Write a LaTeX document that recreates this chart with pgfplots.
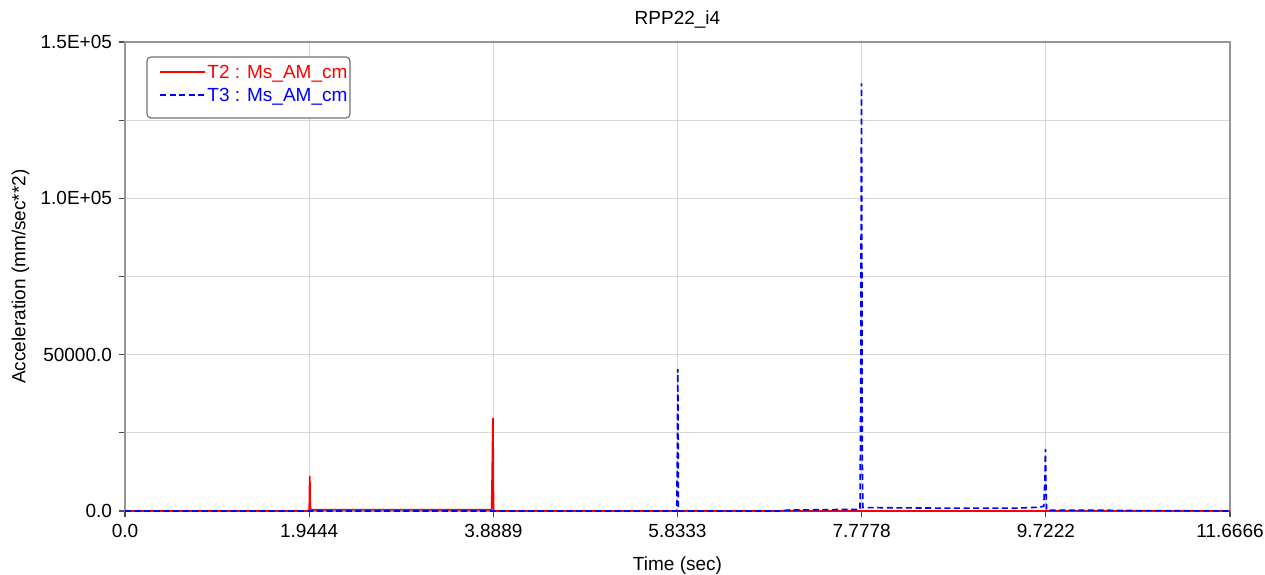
\documentclass[border=0pt]{standalone}
\usepackage{fontspec}
\setmainfont{Liberation Sans}
\usepackage{pgfplots}
\pgfplotsset{compat=1.18}
\definecolor{gridc}{RGB}{215,215,215}
\definecolor{axc}{RGB}{150,150,150}
\begin{document}
\begin{tikzpicture}
\path[use as bounding box] (-62.5pt,-31.5pt) rectangle (570pt,255.5pt);
\begin{axis}[
  name=ax, at={(0,0)}, anchor=south west,
  scale only axis,
  width=552.5pt, height=234.5pt,
  xmin=0, xmax=11.6666, ymin=0, ymax=150000,
  font=\fontsize{9.5}{11}\selectfont,
  /pgf/number format/assume math mode=true,
  xtick={0,1.9444,3.8889,5.8333,7.7778,9.7222,11.6666},
  xticklabels={0.0,1.9444,3.8889,5.8333,7.7778,9.7222,11.6666},
  ytick={0,50000,100000,150000},
  yticklabels={0.0,50000.0,1.0E+05,1.5E+05},
  scaled y ticks=false,
  minor x tick num=1, minor y tick num=1,
  grid=both,
  major grid style={gridc, line width=0.6pt},
  minor grid style={gridc, line width=0.6pt},
  axis line style={axc, line width=0.7pt},
  tick style={black!70, line width=0.6pt},
  tick align=outside,
  xtick pos=bottom, ytick pos=left,
  major tick length=3pt, minor tick length=3pt,
  title={RPP22\_i4},
  title style={at={(axis description cs:0.5,1)}, anchor=center, yshift=5pt},
  xlabel={Time (sec)},
  xlabel style={at={(axis description cs:0.5,-0.1173)}, anchor=center},
  ylabel={Acceleration (mm/sec**2)},
  ylabel style={at={(axis description cs:-0.0945,0.5)}, anchor=center},
]
\addplot[draw=red, line width=0.8pt] coordinates {
(0,0) (1.935,0) (1.945,300) (1.948,8000) (1.952,11200) (1.955,3000) (1.96,400)
(2.2,420) (2.6,430) (3.0,420) (3.4,410) (3.87,400)
(3.876,11000) (3.879,18000) (3.882,26000) (3.885,29700) (3.888,18000) (3.891,800) (3.90,0)
(5.0,0) (7.0,0) (9.0,0) (11.6666,0)
};
\addplot[draw=blue, line width=0.8pt, dash pattern=on 3pt off 1.8pt] coordinates {
(0,0) (2,0) (4,0) (5.825,0) (5.832,20000) (5.836,45400) (5.840,30000) (5.843,300) (5.85,0)
(6.9,0) (7.0,300) (7.4,450) (7.76,500)
(7.768,40000) (7.772,100000) (7.776,136800) (7.780,90000) (7.784,20000) (7.79,1100)
(8.2,1000) (8.8,900) (9.4,900) (9.65,1200) (9.70,1500)
(9.712,10000) (9.718,19800) (9.724,8000) (9.73,300)
(10.2,300) (10.6,150) (11.0,100) (11.6666,0)
};
\end{axis}
% legend box
\draw[black!55, line width=0.6pt, rounded corners=2pt, fill=white] (11pt,227pt) rectangle (112.5pt,196.5pt);
\draw[red, line width=0.8pt] (17.5pt,219.5pt) -- (40pt,219.5pt);
\node[anchor=base west, inner sep=0pt, text=red, font=\fontsize{9.5}{11}\selectfont] at (41pt,216.1pt) {T2 : Ms\_AM\_cm};
\draw[blue, line width=0.8pt, dash pattern=on 3pt off 1.8pt] (17.5pt,208pt) -- (40pt,208pt);
\node[anchor=base west, inner sep=0pt, text=blue, font=\fontsize{9.5}{11}\selectfont] at (41pt,204.6pt) {T3 : Ms\_AM\_cm};
\end{tikzpicture}
\end{document}
